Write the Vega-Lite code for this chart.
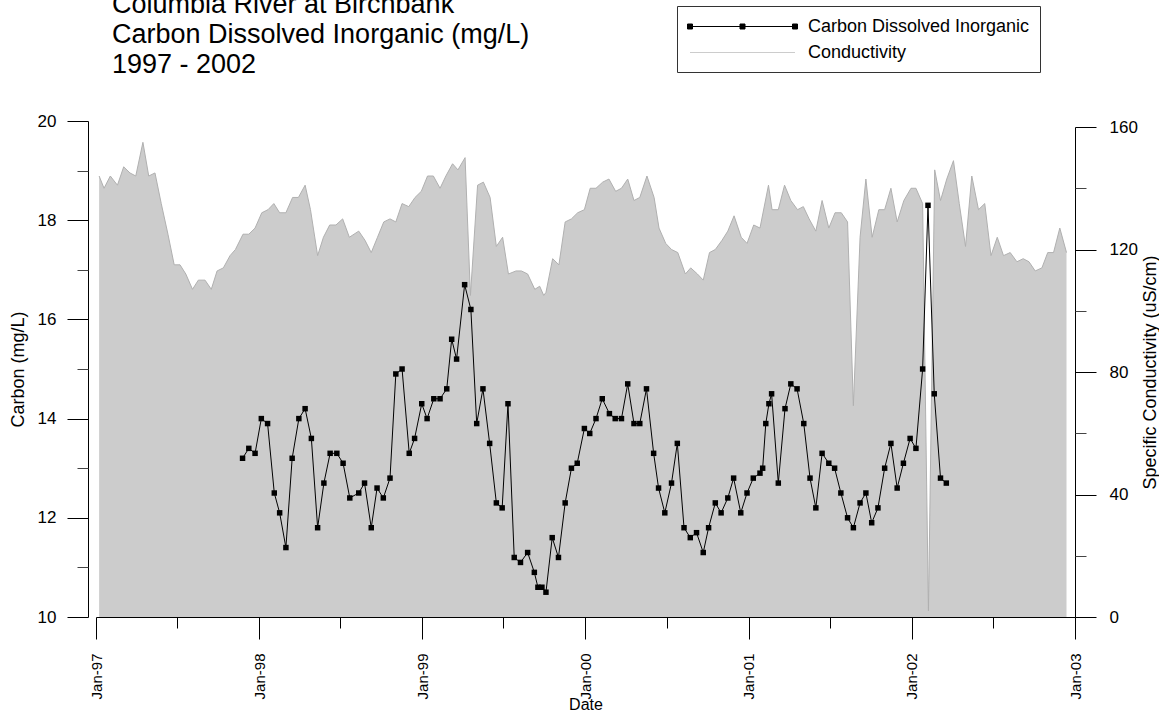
{
  "$schema": "https://vega.github.io/schema/vega-lite/v6.json",
  "width": 979,
  "height": 496,
  "autosize": {"type": "none"},
  "padding": {"left": 96, "top": 121, "right": 84, "bottom": 96},
  "background": "white",
  "config": {
    "view": {"stroke": null},
    "font": "Liberation Sans",
    "axis": {"grid": false, "domainColor": "black", "tickColor": "black", "labelColor": "black", "titleColor": "black", "labelFont": "Liberation Sans", "titleFont": "Liberation Sans", "titleFontWeight": "normal", "domainWidth": 1, "tickWidth": 1}
  },
  "title": {
    "text": ["Columbia River at Birchbank", "Carbon Dissolved Inorganic (mg/L)", "1997 - 2002"],
    "anchor": "start", "frame": "group", "dx": 16, "offset": -73,
    "fontSize": 27, "lineHeight": 30, "font": "Liberation Sans", "fontWeight": "normal", "color": "black"
  },
  "datasets": {
    "cond": [
      {"date": "1997-01-08", "cond": 144}, {"date": "1997-01-19", "cond": 140}, {"date": "1997-02-02", "cond": 144}, {"date": "1997-02-18", "cond": 141},
      {"date": "1997-03-04", "cond": 147}, {"date": "1997-03-18", "cond": 145}, {"date": "1997-03-31", "cond": 144}, {"date": "1997-04-16", "cond": 155},
      {"date": "1997-04-29", "cond": 144}, {"date": "1997-05-13", "cond": 145}, {"date": "1997-05-27", "cond": 135}, {"date": "1997-06-11", "cond": 125},
      {"date": "1997-06-25", "cond": 115}, {"date": "1997-07-08", "cond": 115}, {"date": "1997-07-21", "cond": 112}, {"date": "1997-08-05", "cond": 107},
      {"date": "1997-08-18", "cond": 110}, {"date": "1997-09-02", "cond": 110}, {"date": "1997-09-16", "cond": 107}, {"date": "1997-09-29", "cond": 113},
      {"date": "1997-10-13", "cond": 114}, {"date": "1997-10-28", "cond": 118}, {"date": "1997-11-09", "cond": 120}, {"date": "1997-11-26", "cond": 125},
      {"date": "1997-12-09", "cond": 125}, {"date": "1997-12-23", "cond": 127}, {"date": "1998-01-07", "cond": 132}, {"date": "1998-01-21", "cond": 133},
      {"date": "1998-02-03", "cond": 135}, {"date": "1998-02-16", "cond": 132}, {"date": "1998-03-02", "cond": 132}, {"date": "1998-03-17", "cond": 137},
      {"date": "1998-03-30", "cond": 137}, {"date": "1998-04-14", "cond": 141}, {"date": "1998-04-26", "cond": 133}, {"date": "1998-05-12", "cond": 118},
      {"date": "1998-05-25", "cond": 124}, {"date": "1998-06-08", "cond": 128}, {"date": "1998-06-22", "cond": 128}, {"date": "1998-07-07", "cond": 130},
      {"date": "1998-07-22", "cond": 124}, {"date": "1998-08-12", "cond": 126}, {"date": "1998-08-26", "cond": 123}, {"date": "1998-09-09", "cond": 119},
      {"date": "1998-09-23", "cond": 124}, {"date": "1998-10-07", "cond": 129}, {"date": "1998-10-21", "cond": 130}, {"date": "1998-11-03", "cond": 129},
      {"date": "1998-11-17", "cond": 135}, {"date": "1998-12-02", "cond": 134}, {"date": "1998-12-16", "cond": 137}, {"date": "1998-12-30", "cond": 139},
      {"date": "1999-01-13", "cond": 144}, {"date": "1999-01-26", "cond": 144}, {"date": "1999-02-10", "cond": 140}, {"date": "1999-02-23", "cond": 144},
      {"date": "1999-03-10", "cond": 148}, {"date": "1999-03-22", "cond": 146}, {"date": "1999-04-07", "cond": 150}, {"date": "1999-04-19", "cond": 105},
      {"date": "1999-05-05", "cond": 141}, {"date": "1999-05-18", "cond": 142}, {"date": "1999-06-02", "cond": 137}, {"date": "1999-06-16", "cond": 121},
      {"date": "1999-06-30", "cond": 124}, {"date": "1999-07-13", "cond": 112}, {"date": "1999-07-30", "cond": 113}, {"date": "1999-08-11", "cond": 113},
      {"date": "1999-08-25", "cond": 112}, {"date": "1999-09-10", "cond": 107}, {"date": "1999-09-21", "cond": 108}, {"date": "1999-09-30", "cond": 105},
      {"date": "1999-10-05", "cond": 106}, {"date": "1999-10-20", "cond": 117}, {"date": "1999-11-03", "cond": 115}, {"date": "1999-11-17", "cond": 129},
      {"date": "1999-12-01", "cond": 130}, {"date": "1999-12-15", "cond": 132}, {"date": "1999-12-30", "cond": 133}, {"date": "2000-01-12", "cond": 140},
      {"date": "2000-01-25", "cond": 140}, {"date": "2000-02-09", "cond": 142}, {"date": "2000-02-23", "cond": 143}, {"date": "2000-03-09", "cond": 139},
      {"date": "2000-03-22", "cond": 140}, {"date": "2000-04-05", "cond": 143}, {"date": "2000-04-19", "cond": 136}, {"date": "2000-05-02", "cond": 137},
      {"date": "2000-05-18", "cond": 144}, {"date": "2000-06-03", "cond": 137}, {"date": "2000-06-14", "cond": 127}, {"date": "2000-06-29", "cond": 122},
      {"date": "2000-07-12", "cond": 120}, {"date": "2000-07-26", "cond": 119}, {"date": "2000-08-12", "cond": 112}, {"date": "2000-08-24", "cond": 114},
      {"date": "2000-09-08", "cond": 112}, {"date": "2000-09-21", "cond": 110}, {"date": "2000-10-05", "cond": 119}, {"date": "2000-10-18", "cond": 120},
      {"date": "2000-11-02", "cond": 123}, {"date": "2000-11-15", "cond": 126}, {"date": "2000-11-29", "cond": 131}, {"date": "2000-12-15", "cond": 124},
      {"date": "2000-12-28", "cond": 122}, {"date": "2001-01-12", "cond": 128}, {"date": "2001-01-26", "cond": 127}, {"date": "2001-02-14", "cond": 141},
      {"date": "2001-02-22", "cond": 133}, {"date": "2001-03-08", "cond": 133}, {"date": "2001-03-22", "cond": 141}, {"date": "2001-04-05", "cond": 136},
      {"date": "2001-04-20", "cond": 133}, {"date": "2001-05-03", "cond": 134}, {"date": "2001-05-16", "cond": 130}, {"date": "2001-05-31", "cond": 126},
      {"date": "2001-06-14", "cond": 136}, {"date": "2001-06-29", "cond": 127}, {"date": "2001-07-13", "cond": 132}, {"date": "2001-07-27", "cond": 132},
      {"date": "2001-08-10", "cond": 129}, {"date": "2001-08-23", "cond": 69}, {"date": "2001-09-07", "cond": 124}, {"date": "2001-09-20", "cond": 143},
      {"date": "2001-10-04", "cond": 124}, {"date": "2001-10-19", "cond": 133}, {"date": "2001-11-01", "cond": 133}, {"date": "2001-11-15", "cond": 140},
      {"date": "2001-11-29", "cond": 129}, {"date": "2001-12-14", "cond": 136}, {"date": "2001-12-30", "cond": 140}, {"date": "2002-01-10", "cond": 140},
      {"date": "2002-01-25", "cond": 135}, {"date": "2002-02-07", "cond": 2}, {"date": "2002-02-21", "cond": 146}, {"date": "2002-03-06", "cond": 136},
      {"date": "2002-03-20", "cond": 143}, {"date": "2002-04-04", "cond": 149}, {"date": "2002-04-17", "cond": 135}, {"date": "2002-05-01", "cond": 121},
      {"date": "2002-05-15", "cond": 144}, {"date": "2002-05-30", "cond": 133}, {"date": "2002-06-13", "cond": 135}, {"date": "2002-06-27", "cond": 118},
      {"date": "2002-07-11", "cond": 124}, {"date": "2002-07-25", "cond": 118}, {"date": "2002-08-09", "cond": 119}, {"date": "2002-08-24", "cond": 116},
      {"date": "2002-09-07", "cond": 117}, {"date": "2002-09-20", "cond": 116}, {"date": "2002-10-04", "cond": 113}, {"date": "2002-10-19", "cond": 114},
      {"date": "2002-11-01", "cond": 119}, {"date": "2002-11-14", "cond": 119}, {"date": "2002-11-28", "cond": 127}, {"date": "2002-12-13", "cond": 119}
    ],
    "carbon": [
      {"date": "1997-11-25", "carbon": 13.2}, {"date": "1997-12-09", "carbon": 13.4}, {"date": "1997-12-23", "carbon": 13.3}, {"date": "1998-01-06", "carbon": 14.0},
      {"date": "1998-01-20", "carbon": 13.9}, {"date": "1998-02-04", "carbon": 12.5}, {"date": "1998-02-16", "carbon": 12.1}, {"date": "1998-03-02", "carbon": 11.4},
      {"date": "1998-03-16", "carbon": 13.2}, {"date": "1998-03-31", "carbon": 14.0}, {"date": "1998-04-14", "carbon": 14.2}, {"date": "1998-04-28", "carbon": 13.6},
      {"date": "1998-05-12", "carbon": 11.8}, {"date": "1998-05-26", "carbon": 12.7}, {"date": "1998-06-09", "carbon": 13.3}, {"date": "1998-06-24", "carbon": 13.3},
      {"date": "1998-07-08", "carbon": 13.1}, {"date": "1998-07-23", "carbon": 12.4}, {"date": "1998-08-12", "carbon": 12.5}, {"date": "1998-08-25", "carbon": 12.7},
      {"date": "1998-09-09", "carbon": 11.8}, {"date": "1998-09-22", "carbon": 12.6}, {"date": "1998-10-06", "carbon": 12.4}, {"date": "1998-10-21", "carbon": 12.8},
      {"date": "1998-11-03", "carbon": 14.9}, {"date": "1998-11-17", "carbon": 15.0}, {"date": "1998-12-03", "carbon": 13.3}, {"date": "1998-12-15", "carbon": 13.6},
      {"date": "1998-12-31", "carbon": 14.3}, {"date": "1999-01-12", "carbon": 14.0}, {"date": "1999-01-27", "carbon": 14.4}, {"date": "1999-02-10", "carbon": 14.4},
      {"date": "1999-02-25", "carbon": 14.6}, {"date": "1999-03-08", "carbon": 15.6}, {"date": "1999-03-19", "carbon": 15.2}, {"date": "1999-04-06", "carbon": 16.7},
      {"date": "1999-04-20", "carbon": 16.2}, {"date": "1999-05-03", "carbon": 13.9}, {"date": "1999-05-17", "carbon": 14.6}, {"date": "1999-06-01", "carbon": 13.5},
      {"date": "1999-06-16", "carbon": 12.3}, {"date": "1999-06-29", "carbon": 12.2}, {"date": "1999-07-12", "carbon": 14.3}, {"date": "1999-07-26", "carbon": 11.2},
      {"date": "1999-08-09", "carbon": 11.1}, {"date": "1999-08-25", "carbon": 11.3}, {"date": "1999-09-09", "carbon": 10.9}, {"date": "1999-09-17", "carbon": 10.6},
      {"date": "1999-09-26", "carbon": 10.6}, {"date": "1999-10-05", "carbon": 10.5}, {"date": "1999-10-19", "carbon": 11.6}, {"date": "1999-11-02", "carbon": 11.2},
      {"date": "1999-11-17", "carbon": 12.3}, {"date": "1999-12-01", "carbon": 13.0}, {"date": "1999-12-14", "carbon": 13.1}, {"date": "1999-12-30", "carbon": 13.8},
      {"date": "2000-01-11", "carbon": 13.7}, {"date": "2000-01-25", "carbon": 14.0}, {"date": "2000-02-08", "carbon": 14.4}, {"date": "2000-02-24", "carbon": 14.1},
      {"date": "2000-03-08", "carbon": 14.0}, {"date": "2000-03-22", "carbon": 14.0}, {"date": "2000-04-05", "carbon": 14.7}, {"date": "2000-04-19", "carbon": 13.9},
      {"date": "2000-05-02", "carbon": 13.9}, {"date": "2000-05-17", "carbon": 14.6}, {"date": "2000-06-02", "carbon": 13.3}, {"date": "2000-06-13", "carbon": 12.6},
      {"date": "2000-06-27", "carbon": 12.1}, {"date": "2000-07-12", "carbon": 12.7}, {"date": "2000-07-25", "carbon": 13.5}, {"date": "2000-08-09", "carbon": 11.8},
      {"date": "2000-08-23", "carbon": 11.6}, {"date": "2000-09-06", "carbon": 11.7}, {"date": "2000-09-21", "carbon": 11.3}, {"date": "2000-10-03", "carbon": 11.8},
      {"date": "2000-10-18", "carbon": 12.3}, {"date": "2000-10-31", "carbon": 12.1}, {"date": "2000-11-15", "carbon": 12.4}, {"date": "2000-11-28", "carbon": 12.8},
      {"date": "2000-12-14", "carbon": 12.1}, {"date": "2000-12-28", "carbon": 12.5}, {"date": "2001-01-11", "carbon": 12.8}, {"date": "2001-01-26", "carbon": 12.9},
      {"date": "2001-02-01", "carbon": 13.0}, {"date": "2001-02-08", "carbon": 13.9}, {"date": "2001-02-15", "carbon": 14.3}, {"date": "2001-02-21", "carbon": 14.5},
      {"date": "2001-03-08", "carbon": 12.7}, {"date": "2001-03-23", "carbon": 14.2}, {"date": "2001-04-05", "carbon": 14.7}, {"date": "2001-04-19", "carbon": 14.6},
      {"date": "2001-05-04", "carbon": 13.9}, {"date": "2001-05-18", "carbon": 12.8}, {"date": "2001-05-31", "carbon": 12.2}, {"date": "2001-06-14", "carbon": 13.3},
      {"date": "2001-06-29", "carbon": 13.1}, {"date": "2001-07-12", "carbon": 13.0}, {"date": "2001-07-26", "carbon": 12.5}, {"date": "2001-08-10", "carbon": 12.0},
      {"date": "2001-08-23", "carbon": 11.8}, {"date": "2001-09-07", "carbon": 12.3}, {"date": "2001-09-20", "carbon": 12.5}, {"date": "2001-10-03", "carbon": 11.9},
      {"date": "2001-10-17", "carbon": 12.2}, {"date": "2001-11-01", "carbon": 13.0}, {"date": "2001-11-15", "carbon": 13.5}, {"date": "2001-11-29", "carbon": 12.6},
      {"date": "2001-12-13", "carbon": 13.1}, {"date": "2001-12-28", "carbon": 13.6}, {"date": "2002-01-10", "carbon": 13.4}, {"date": "2002-01-25", "carbon": 15.0},
      {"date": "2002-02-06", "carbon": 18.3}, {"date": "2002-02-20", "carbon": 14.5}, {"date": "2002-03-06", "carbon": 12.8}, {"date": "2002-03-19", "carbon": 12.7}
    ]
  },
  "encoding": {
    "x": {
      "field": "date", "type": "temporal",
      "scale": {"type": "utc", "domain": ["1997-01-01", "2003-01-01"]},
      "axis": {
        "orient": "bottom",
        "values": ["1997-01-01", "1997-07-01", "1998-01-01", "1998-07-01", "1999-01-01", "1999-07-01", "2000-01-01", "2000-07-01", "2001-01-01", "2001-07-01", "2002-01-01", "2002-07-01", "2003-01-01"],
        "labelExpr": "utcmonth(datum.value) === 0 ? utcFormat(datum.value, '%b-%y') : ''",
        "labelAngle": 270, "labelFontSize": 15, "labelPadding": 14, "labelFlush": false, "labelOverlap": false,
        "tickSize": {"condition": {"test": "utcmonth(datum.value) === 0", "value": 22}, "value": 11},
        "title": "Date", "titleFontSize": 16, "titleY": 79, "titleBaseline": "top"
      }
    }
  },
  "layer": [
    {
      "data": {"name": "cond"},
      "layer": [
        {
          "mark": {"type": "area", "opacity": 1},
          "encoding": {
            "y": {
              "field": "cond", "type": "quantitative",
              "scale": {"domain": [0, 160], "nice": false, "zero": true, "range": [496, 6]},
              "axis": {
                "orient": "right", "values": [0, 40, 80, 120, 160], "tickSize": 21, "labelFontSize": 17, "labelPadding": 13,
                "title": "Specific Conductivity (uS/cm)", "titleFontSize": 18, "titleAngle": 270, "titleBaseline": "top", "titlePadding": 4
              }
            },
            "color": {
              "datum": "Conductivity",
              "scale": {"domain": ["Carbon Dissolved Inorganic", "Conductivity"], "range": ["black", "#cccccc"]},
              "legend": {
                "title": null, "orient": "none", "legendX": 581, "legendY": -115, "direction": "vertical",
                "strokeColor": "#333333", "fillColor": "white", "padding": 10,
                "labelFontSize": 18, "labelFont": "Liberation Sans", "labelColor": "black", "labelLimit": 400,
                "symbolSize": 400, "symbolOffset": 45, "labelOffset": 55, "rowPadding": 6, "symbolStrokeWidth": 1,
                "values": ["Carbon Dissolved Inorganic", "Conductivity"],
                "encode": {"symbols": {"update": {
                  "shape": {"signal": "datum.value === 'Conductivity' ? 'M-5.25,0H5.25' : 'M-5.25,0H5.25M-5.5,-0.25h0.5v0.5h-0.5zM-0.25,-0.25h0.5v0.5h-0.5zM5,-0.25h0.5v0.5h-0.5z'"},
                  "fill": {"signal": "datum.value === 'Conductivity' ? 'transparent' : 'black'"},
                  "stroke": {"signal": "datum.value === 'Conductivity' ? '#b0b0b0' : 'black'"},
                  "strokeWidth": {"value": 1},
                  "opacity": {"value": 1}
                }}}
              }
            }
          }
        },
        {
          "mark": {"type": "line", "stroke": "#b0b0b0", "strokeWidth": 1},
          "encoding": {
            "y": {
              "field": "cond", "type": "quantitative",
              "axis": {"orient": "right", "values": [20, 60, 100, 140], "tickSize": 11, "labels": false, "domain": false, "title": null, "tickColor": "#444444"}
            }
          }
        }
      ],
      "resolve": {"axis": {"y": "independent"}}
    },
    {
      "data": {"name": "carbon"},
      "layer": [
        {
          "mark": {"type": "line", "strokeWidth": 1},
          "encoding": {
            "y": {
              "field": "carbon", "type": "quantitative",
              "scale": {"domain": [10, 20], "nice": false, "zero": false},
              "axis": {
                "orient": "left", "offset": 8, "values": [10, 12, 14, 16, 18, 20], "tickSize": 21, "labelFontSize": 17, "labelPadding": 11,
                "title": "Carbon (mg/L)", "titleFontSize": 18, "titlePadding": 10
              }
            },
            "color": {
              "datum": "Carbon Dissolved Inorganic",
              "legend": {
                "title": null, "orient": "none", "legendX": 581, "legendY": -115, "direction": "vertical",
                "strokeColor": "#333333", "fillColor": "white", "padding": 10,
                "labelFontSize": 18, "labelFont": "Liberation Sans", "labelColor": "black", "labelLimit": 400,
                "symbolSize": 400, "symbolOffset": 45, "labelOffset": 55, "rowPadding": 6, "symbolStrokeWidth": 1,
                "values": ["Carbon Dissolved Inorganic", "Conductivity"],
                "encode": {"symbols": {"update": {
                  "shape": {"signal": "datum.value === 'Conductivity' ? 'M-5.25,0H5.25' : 'M-5.25,0H5.25M-5.5,-0.25h0.5v0.5h-0.5zM-0.25,-0.25h0.5v0.5h-0.5zM5,-0.25h0.5v0.5h-0.5z'"},
                  "fill": {"signal": "datum.value === 'Conductivity' ? 'transparent' : 'black'"},
                  "stroke": {"signal": "datum.value === 'Conductivity' ? '#b0b0b0' : 'black'"},
                  "strokeWidth": {"value": 1},
                  "opacity": {"value": 1}
                }}}
              }
            }
          }
        },
        {
          "mark": {"type": "square", "filled": true, "color": "black", "size": 30, "opacity": 1},
          "encoding": {
            "y": {
              "field": "carbon", "type": "quantitative",
              "axis": {"orient": "left", "offset": 8, "values": [11, 13, 15, 17, 19], "tickSize": 11, "labels": false, "domain": false, "title": null, "tickColor": "#444444"}
            }
          }
        }
      ],
      "resolve": {"axis": {"y": "independent"}}
    }
  ],
  "resolve": {"scale": {"y": "independent"}}
}
